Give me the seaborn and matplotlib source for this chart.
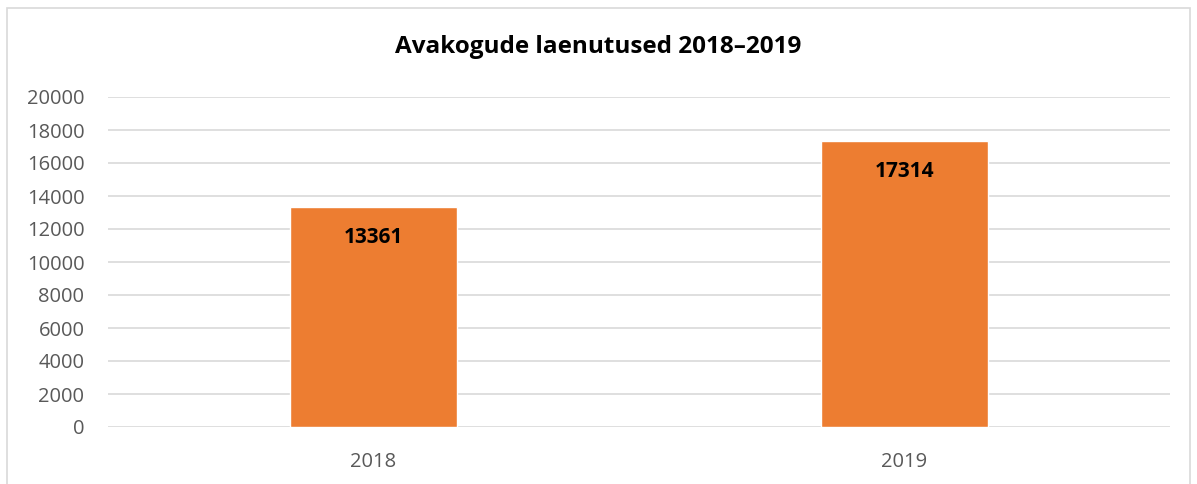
import matplotlib
matplotlib.use("Agg")
import matplotlib.pyplot as plt
import seaborn as sns
import pandas as pd
from matplotlib.patches import Rectangle

years = ["2018", "2019"]
loans = [13361, 17314]
yticks = [0, 2000, 4000, 6000, 8000, 10000, 12000, 14000, 16000, 18000, 20000]

df = pd.DataFrame({"year": years, "loans": loans})

sns.set_style("white")
plt.rcParams["font.family"] = ["Open Sans", "DejaVu Sans"]

fig = plt.figure(figsize=(11.97, 4.84), dpi=100)
ax = fig.add_axes([108 / 1197, 1 - 427 / 484, (1170 - 108) / 1197, 330 / 484])

sns.barplot(data=df, x="year", y="loans", color="#ED7D31", width=0.313,
            saturation=1, ax=ax, zorder=3)

ax.set_ylim(0, 20000)
ax.set_yticks(yticks)
ax.set_yticklabels([str(t) for t in yticks])
ax.grid(axis="y", color="#d9d9d9", linewidth=1.2, zorder=0)
ax.set_axisbelow(True)
for s in ax.spines.values():
    s.set_visible(False)
ax.tick_params(axis="both", length=0, labelsize=14.5, colors="#595959")
ax.tick_params(axis="y", pad=17)
ax.tick_params(axis="x", pad=18)
ax.set_xlabel("")
ax.set_ylabel("")

for i, v in enumerate(loans):
    ax.annotate(str(v), (i, v), xytext=(0, -22), textcoords="offset points",
                ha="center", va="center", fontsize=15, fontweight="bold",
                color="black", zorder=4)

fig.text(0.5, 1 - 47 / 484, "Avakogude laenutused 2018\u20132019", ha="center",
         va="center", fontsize=17.5, fontweight="bold", color="black")

# outer chart border
fig.patches.append(Rectangle((7 / 1197, -0.01), (1190 - 7) / 1197, 1 - 8 / 484 + 0.01,
                             transform=fig.transFigure, fill=False,
                             edgecolor="#d9d9d9", linewidth=1.2))

fig.savefig("out.png", dpi=100)
